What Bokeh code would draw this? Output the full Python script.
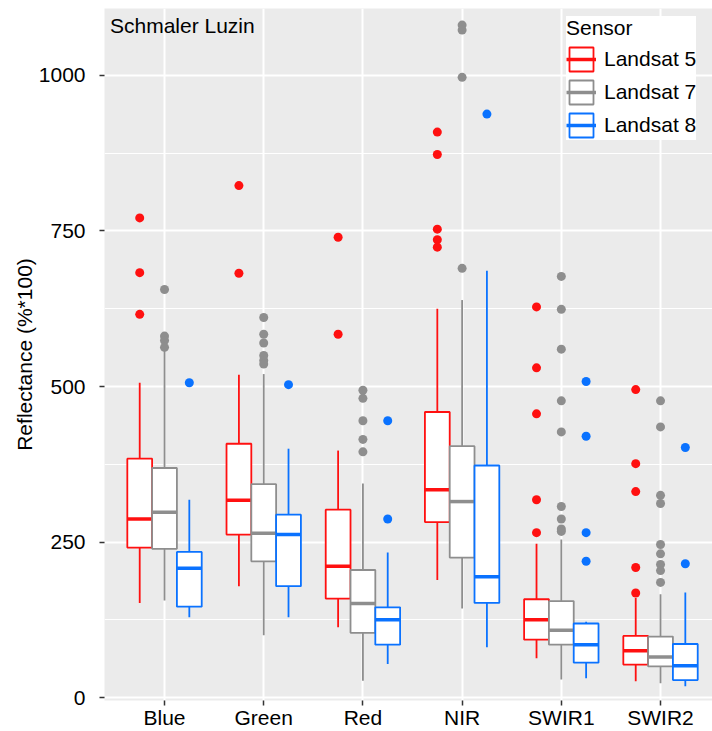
from bokeh.plotting import figure
from bokeh.models import FixedTicker, Legend, LegendItem, Label, ColumnDataSource
from bokeh.embed import file_html
from bokeh.resources import INLINE

bands = ["Blue", "Green", "Red", "NIR", "SWIR1", "SWIR2"]
sensors = ["Landsat 5", "Landsat 7", "Landsat 8"]
colors = ["#FF1010", "#8E8E8E", "#0A72FF"]

# Landsat 5
l5_lo = [152, 179, 113, 189, 63, 26]
l5_q1 = [241, 262, 159, 282, 93, 53]
l5_med = [287, 317, 211, 334, 125, 75]
l5_q3 = [384, 408, 302, 459, 158, 99]
l5_hi = [506, 519, 397, 625, 247, 160]
l5_out = [[771, 683, 616], [823, 682], [740, 584], [909, 873, 753, 736, 724],
          [628, 530, 456, 318, 265], [495, 376, 331, 209, 168]]
# Landsat 7
l7_lo = [156, 100, 27, 143, 29, 23]
l7_q1 = [239, 219, 104, 225, 85, 50]
l7_med = [298, 264, 151, 315, 108, 65]
l7_q3 = [369, 343, 205, 404, 155, 98]
l7_hi = [558, 520, 344, 639, 254, 166]
l7_out = [[656, 581, 574, 563], [611, 584, 570, 550, 542, 536], [494, 481, 445, 415, 395],
          [1081, 1073, 997, 690], [677, 624, 560, 477, 427, 307, 287, 271, 267],
          [477, 435, 325, 312, 246, 231, 214, 204, 185]]
# Landsat 8
l8_lo = [129, 129, 54, 81, 31, 18]
l8_q1 = [146, 179, 85, 152, 56, 28]
l8_med = [208, 262, 125, 194, 85, 51]
l8_q3 = [234, 294, 145, 373, 119, 86]
l8_hi = [318, 400, 233, 686, 122, 169]
l8_out = [[506], [503], [445, 287], [938], [508, 420, 265, 219], [402, 215]]

y_ticks = [0, 250, 500, 750, 1000]
y_minor = [125, 375, 625, 875]

stats = [
    (l5_lo, l5_q1, l5_med, l5_q3, l5_hi, l5_out),
    (l7_lo, l7_q1, l7_med, l7_q3, l7_hi, l7_out),
    (l8_lo, l8_q1, l8_med, l8_q3, l8_hi, l8_out),
]

FONT = "Liberation Sans"
p = figure(width=712, height=731, x_range=(0.395, 6.524), y_range=(-4.8, 1107.7),
           output_backend="svg", toolbar_location=None,
           background_fill_color="#EBEBEB", border_fill_color="white",
           min_border_left=104, min_border_right=0, min_border_top=8, min_border_bottom=20)
p.outline_line_color = None

p.xaxis.ticker = FixedTicker(ticks=[1, 2, 3, 4, 5, 6])
p.xaxis.major_label_overrides = {i + 1: b for i, b in enumerate(bands)}
p.yaxis.ticker = FixedTicker(ticks=y_ticks, minor_ticks=y_minor)
p.yaxis.axis_label = "Reflectance (%*100)"
for ax in (p.xaxis[0], p.yaxis[0]):
    ax.axis_line_color = None
    ax.major_tick_line_color = "#333333"
    ax.major_tick_line_width = 1.5
    ax.major_tick_out = 5
    ax.major_tick_in = 0
    ax.minor_tick_line_color = None
    ax.major_label_text_font = FONT
    ax.major_label_text_font_size = "21px"
    ax.major_label_text_color = "black"
    ax.axis_label_text_font = FONT
    ax.axis_label_text_font_size = "21px"
    ax.axis_label_text_font_style = "normal"
    ax.axis_label_text_color = "black"
p.xaxis.major_label_standoff = 0
p.yaxis.major_label_standoff = 14
p.yaxis.axis_label_standoff = 0

p.xgrid.grid_line_color = "white"
p.xgrid.grid_line_width = 2
p.ygrid.grid_line_color = "white"
p.ygrid.grid_line_width = 2
p.ygrid.minor_grid_line_color = "white"
p.ygrid.minor_grid_line_width = 1

offsets = [-0.25, 0.0, 0.25]
bw = 0.25
legend_items = []
for s, (lo, q1, med, q3, hi, out) in enumerate(stats):
    xs = [i + 1 + offsets[s] for i in range(len(bands))]
    src = ColumnDataSource(dict(x=xs, x0=[x - bw / 2 for x in xs], x1=[x + bw / 2 for x in xs],
                                lo=lo, q1=q1, med=med, q3=q3, hi=hi))
    c = colors[s]
    p.segment(x0="x", y0="q3", x1="x", y1="hi", source=src, line_color=c, line_width=1.8)
    p.segment(x0="x", y0="lo", x1="x", y1="q1", source=src, line_color=c, line_width=1.8)
    box = p.vbar(x="x", width=bw, bottom="q1", top="q3", source=src,
                 fill_color="white", line_color=c, line_width=1.8)
    medr = p.segment(x0="x0", y0="med", x1="x1", y1="med", source=src, line_color=c, line_width=3.5)
    ox, oy = [], []
    for i, vals in enumerate(out):
        for v in vals:
            ox.append(xs[i])
            oy.append(v)
    p.scatter(ox, oy, size=9, fill_color=c, line_color=None)
    legend_items.append(LegendItem(label=sensors[s], renderers=[box, medr]))

legend = Legend(items=legend_items, location=(462, 560), title="Sensor",
                title_text_font=FONT, title_text_font_size="21px", title_text_color="black",
                title_text_font_style="normal",
                label_text_font=FONT, label_text_font_size="21px", label_text_color="black",
                background_fill_color="white", background_fill_alpha=1.0,
                border_line_color=None, glyph_width=30, glyph_height=30, spacing=3,
                padding=8, margin=0, label_standoff=8, title_standoff=4)
p.add_layout(legend)

p.add_layout(Label(x=0.45, y=1081, text="Schmaler Luzin", text_font=FONT,
                   text_font_size="21px", text_color="black", text_baseline="middle"))

open("out.html", "w").write(file_html(p, INLINE))
